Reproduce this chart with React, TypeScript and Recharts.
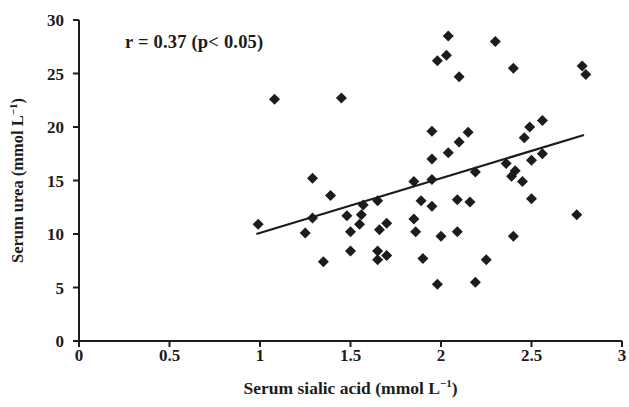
import { ScatterChart, Scatter, XAxis, YAxis } from 'recharts';

// serum sialic acid (mmol/L) and serum urea (mmol/L), one entry per patient
const sialicAcid = [
  0.99, 1.08, 1.25, 1.29, 1.29, 1.35, 1.39, 1.45, 1.48, 1.5,
  1.5, 1.55, 1.56, 1.57, 1.65, 1.65, 1.65, 1.66, 1.7, 1.7,
  1.85, 1.85, 1.86, 1.89, 1.9, 1.95, 1.95, 1.95, 1.95, 1.98,
  1.98, 2.0, 2.03, 2.04, 2.04, 2.09, 2.09, 2.1, 2.1, 2.15,
  2.16, 2.19, 2.19, 2.25, 2.3, 2.36, 2.39, 2.4, 2.4, 2.41,
  2.45, 2.46, 2.49, 2.5, 2.5, 2.56, 2.56, 2.75, 2.78, 2.8,
];
const serumUrea = [
  10.9, 22.6, 10.1, 11.5, 15.2, 7.4, 13.6, 22.7, 11.7, 8.4,
  10.2, 10.9, 11.8, 12.7, 13.1, 8.4, 7.6, 10.4, 11.0, 8.0,
  11.4, 14.9, 10.2, 13.1, 7.7, 15.1, 12.6, 17.0, 19.6, 5.3,
  26.2, 9.8, 26.7, 17.6, 28.5, 13.2, 10.2, 18.6, 24.7, 19.5,
  13.0, 15.8, 5.5, 7.6, 28.0, 16.6, 15.4, 9.8, 25.5, 15.9,
  14.9, 19.0, 20.0, 13.3, 16.9, 17.5, 20.6, 11.8, 25.7, 24.9,
];

// regression line end points
const trendX = [0.98, 2.79];
const trendY = [10.0, 19.25];

const xTicks = [0, 0.5, 1, 1.5, 2, 2.5, 3];
const yTicks = [0, 5, 10, 15, 20, 25, 30];
const annotation = 'r = 0.37 (p< 0.05)';

const points = sialicAcid.map((x, i) => ({ x, y: serumUrea[i] }));
const trend = trendX.map((x, i) => ({ x, y: trendY[i] }));

const ink = '#1c1c1c';
const font = '"Liberation Serif", "Times New Roman", serif';

function Diamond(props: any) {
  const { cx, cy } = props;
  const r = 5.5;
  return <path d={`M${cx},${cy - r}L${cx + r},${cy}L${cx},${cy + r}L${cx - r},${cy}Z`} fill={ink} />;
}

function XLabel(props: any) {
  const { x, y, width } = props.viewBox;
  return (
    <text x={x + width / 2} y={y + 53} textAnchor="middle" fontFamily={font} fontWeight="bold" fontSize={17.5} fill={ink}>
      Serum sialic acid (mmol L
      <tspan dy={-7} fontSize={11}>−1</tspan>
      <tspan dy={7}>)</tspan>
    </text>
  );
}

function YLabel(props: any) {
  const { y, height } = props.viewBox;
  const cx = 23;
  const cy = y + height / 2;
  return (
    <text x={cx} y={cy} transform={`rotate(-90 ${cx} ${cy})`} textAnchor="middle" fontFamily={font} fontWeight="bold" fontSize={16.5} fill={ink}>
      Serum urea (mmol L
      <tspan dy={-6} fontSize={11}>−1</tspan>
      <tspan dy={6}>)</tspan>
    </text>
  );
}

export default function App() {
  const tickStyle = { fontFamily: font, fontWeight: 'bold', fontSize: 17, fill: ink };
  return (
    <div style={{ position: 'absolute', left: 0, top: 0, width: 629, height: 407, background: '#fff' }}>
      <ScatterChart width={629} height={407} margin={{ top: 20, right: 7, bottom: 0, left: 0 }}>
        <XAxis
          type="number"
          dataKey="x"
          domain={[0, 3]}
          ticks={xTicks}
          height={66}
          tickSize={6}
          tickMargin={2}
          axisLine={{ stroke: ink, strokeWidth: 2 }}
          tickLine={{ stroke: ink, strokeWidth: 2 }}
          tick={tickStyle}
          label={<XLabel />}
        />
        <YAxis
          type="number"
          dataKey="y"
          domain={[0, 30]}
          ticks={yTicks}
          width={79}
          tickSize={6}
          tickMargin={9}
          axisLine={{ stroke: ink, strokeWidth: 2 }}
          tickLine={{ stroke: ink, strokeWidth: 2 }}
          tick={tickStyle}
          label={<YLabel />}
        />
        <Scatter data={points} shape={<Diamond />} isAnimationActive={false} />
        <Scatter
          data={trend}
          line={{ stroke: ink, strokeWidth: 2.2 }}
          shape={() => null}
          isAnimationActive={false}
        />
      </ScatterChart>
      <div
        style={{
          position: 'absolute',
          left: 125,
          top: 32,
          fontFamily: font,
          fontWeight: 'bold',
          fontSize: 18.5,
          color: ink,
          letterSpacing: 0.2,
          whiteSpace: 'nowrap',
        }}
      >
        {annotation}
      </div>
    </div>
  );
}
